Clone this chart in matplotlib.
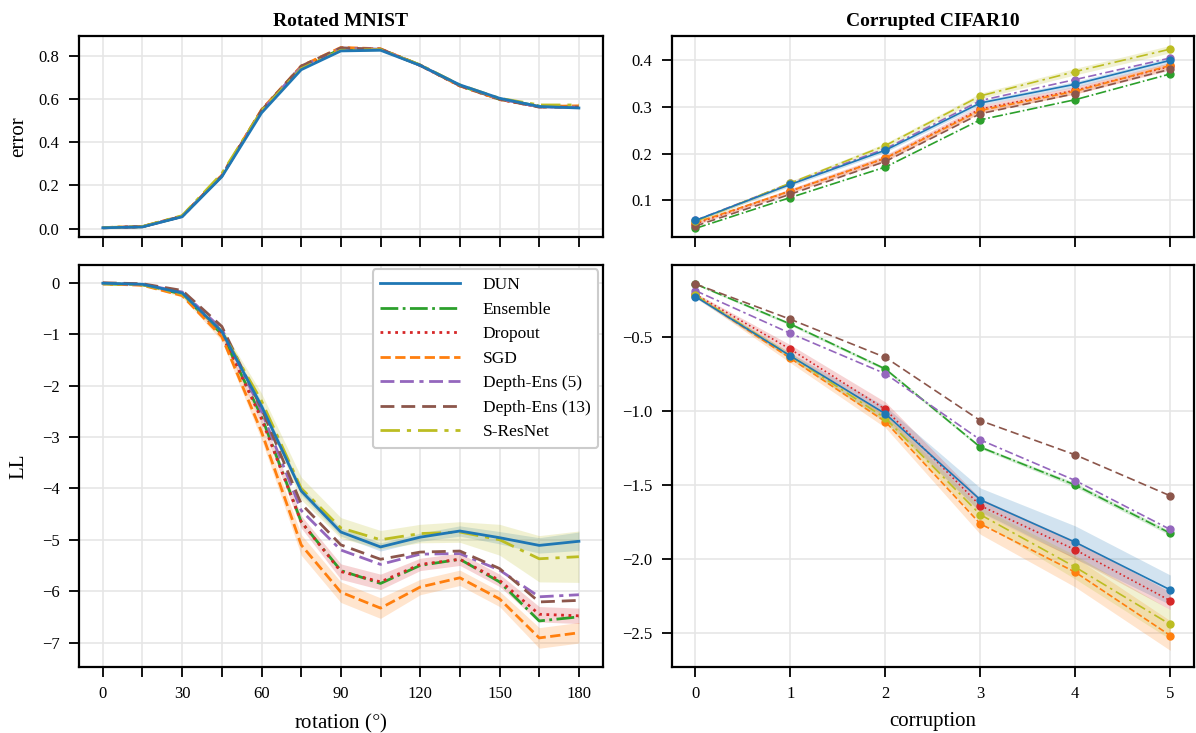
import numpy as np
import matplotlib
matplotlib.use("Agg")
import matplotlib.pyplot as plt

plt.rcParams["font.family"] = ["Liberation Serif", "DejaVu Serif"]
plt.rcParams["mathtext.fontset"] = "stix"

methods = ["DUN", "Ensemble", "Dropout", "SGD", "Depth-Ens (5)", "Depth-Ens (13)", "S-ResNet"]
colors = ["#1f77b4", "#2ca02c", "#d62728", "#ff7f0e", "#9467bd", "#8c564b", "#bcbd22"]
styles = ["-", "-.", ":", "--", (0, (5, 2, 5, 2, 1.5, 2)), (0, (5, 2.5)), (0, (7, 2.5, 1.5, 2.5))]

rotation = [0, 15, 30, 45, 60, 75, 90, 105, 120, 135, 150, 165, 180]
corruption = [0, 1, 2, 3, 4, 5]

# Rotated MNIST error
mnist_err_dun = [0.004, 0.008, 0.055, 0.240, 0.535, 0.735, 0.822, 0.825, 0.755, 0.665, 0.603, 0.565, 0.558]
mnist_err_ens = [0.004, 0.009, 0.057, 0.245, 0.545, 0.745, 0.830, 0.830, 0.757, 0.662, 0.598, 0.567, 0.565]
mnist_err_drop = [0.005, 0.009, 0.058, 0.245, 0.548, 0.750, 0.835, 0.830, 0.755, 0.660, 0.597, 0.563, 0.565]
mnist_err_sgd = [0.005, 0.010, 0.058, 0.247, 0.550, 0.752, 0.838, 0.832, 0.756, 0.660, 0.598, 0.565, 0.568]
mnist_err_de5 = [0.004, 0.009, 0.056, 0.243, 0.545, 0.748, 0.835, 0.830, 0.755, 0.662, 0.600, 0.563, 0.562]
mnist_err_de13 = [0.004, 0.009, 0.057, 0.244, 0.547, 0.752, 0.836, 0.830, 0.755, 0.661, 0.599, 0.562, 0.562]
mnist_err_sres = [0.005, 0.010, 0.060, 0.255, 0.545, 0.740, 0.825, 0.828, 0.757, 0.665, 0.603, 0.572, 0.572]

# Rotated MNIST log likelihood
mnist_ll_dun = [-0.01, -0.03, -0.20, -0.95, -2.40, -4.05, -4.85, -5.14, -4.95, -4.83, -4.96, -5.11, -5.03]
mnist_ll_ens = [-0.02, -0.04, -0.22, -1.00, -2.60, -4.65, -5.60, -5.85, -5.50, -5.38, -5.82, -6.58, -6.50]
mnist_ll_drop = [-0.02, -0.04, -0.22, -1.00, -2.65, -4.65, -5.62, -5.82, -5.48, -5.38, -5.79, -6.45, -6.48]
mnist_ll_sgd = [-0.02, -0.05, -0.25, -1.05, -2.90, -5.10, -6.02, -6.33, -5.92, -5.74, -6.15, -6.91, -6.81]
mnist_ll_de5 = [-0.01, -0.03, -0.18, -0.90, -2.50, -4.43, -5.20, -5.48, -5.28, -5.27, -5.59, -6.11, -6.07]
mnist_ll_de13 = [0.00, -0.02, -0.15, -0.85, -2.45, -4.30, -5.10, -5.38, -5.24, -5.22, -5.56, -6.21, -6.18]
mnist_ll_sres = [-0.02, -0.04, -0.22, -0.95, -2.30, -4.00, -4.77, -5.00, -4.88, -4.85, -5.00, -5.37, -5.33]

mnist_ll_std_dun = [0, 0, 0.02, 0.05, 0.08, 0.08, 0.08, 0.08, 0.08, 0.10, 0.12, 0.15, 0.18]
mnist_ll_std_drop = [0, 0, 0.02, 0.05, 0.10, 0.12, 0.15, 0.15, 0.12, 0.12, 0.12, 0.15, 0.15]
mnist_ll_std_sgd = [0, 0, 0.03, 0.08, 0.15, 0.20, 0.20, 0.20, 0.15, 0.15, 0.15, 0.20, 0.20]
mnist_ll_std_sres = [0, 0, 0.03, 0.08, 0.15, 0.22, 0.20, 0.18, 0.18, 0.20, 0.30, 0.45, 0.50]

# Corrupted CIFAR10 error
cifar_err_dun = [0.057, 0.134, 0.207, 0.308, 0.348, 0.399]
cifar_err_ens = [0.040, 0.106, 0.171, 0.272, 0.315, 0.370]
cifar_err_drop = [0.050, 0.120, 0.190, 0.295, 0.335, 0.386]
cifar_err_sgd = [0.052, 0.120, 0.190, 0.292, 0.333, 0.388]
cifar_err_de5 = [0.057, 0.136, 0.210, 0.313, 0.358, 0.404]
cifar_err_de13 = [0.045, 0.113, 0.183, 0.285, 0.328, 0.380]
cifar_err_sres = [0.055, 0.137, 0.217, 0.323, 0.375, 0.423]

cifar_err_std_dun = [0.003, 0.004, 0.004, 0.005, 0.006, 0.006]
cifar_err_std_drop = [0.003, 0.005, 0.007, 0.008, 0.008, 0.008]
cifar_err_std_sgd = [0.003, 0.004, 0.005, 0.006, 0.006, 0.006]
cifar_err_std_sres = [0.003, 0.004, 0.005, 0.006, 0.007, 0.008]

# Corrupted CIFAR10 log likelihood
cifar_ll_dun = [-0.23, -0.63, -1.02, -1.60, -1.886, -2.207]
cifar_ll_ens = [-0.145, -0.415, -0.718, -1.245, -1.50, -1.825]
cifar_ll_drop = [-0.215, -0.585, -0.99, -1.64, -1.937, -2.28]
cifar_ll_sgd = [-0.224, -0.646, -1.073, -1.762, -2.088, -2.515]
cifar_ll_de5 = [-0.19, -0.478, -0.75, -1.196, -1.47, -1.80]
cifar_ll_de13 = [-0.145, -0.383, -0.64, -1.066, -1.297, -1.573]
cifar_ll_sres = [-0.22, -0.63, -1.05, -1.70, -2.054, -2.44]

cifar_ll_std_dun = [0.01, 0.02, 0.05, 0.08, 0.11, 0.10]
cifar_ll_std_ens = [0.005, 0.01, 0.01, 0.01, 0.015, 0.015]
cifar_ll_std_drop = [0.01, 0.03, 0.05, 0.05, 0.06, 0.06]
cifar_ll_std_sgd = [0.01, 0.03, 0.04, 0.07, 0.10, 0.10]
cifar_ll_std_sres = [0.01, 0.02, 0.03, 0.05, 0.08, 0.10]

mnist_err = [mnist_err_dun, mnist_err_ens, mnist_err_drop, mnist_err_sgd, mnist_err_de5, mnist_err_de13, mnist_err_sres]
mnist_ll = [mnist_ll_dun, mnist_ll_ens, mnist_ll_drop, mnist_ll_sgd, mnist_ll_de5, mnist_ll_de13, mnist_ll_sres]
mnist_ll_std = [mnist_ll_std_dun, None, mnist_ll_std_drop, mnist_ll_std_sgd, None, None, mnist_ll_std_sres]
cifar_err = [cifar_err_dun, cifar_err_ens, cifar_err_drop, cifar_err_sgd, cifar_err_de5, cifar_err_de13, cifar_err_sres]
cifar_err_std = [cifar_err_std_dun, None, cifar_err_std_drop, cifar_err_std_sgd, None, None, cifar_err_std_sres]
cifar_ll = [cifar_ll_dun, cifar_ll_ens, cifar_ll_drop, cifar_ll_sgd, cifar_ll_de5, cifar_ll_de13, cifar_ll_sres]
cifar_ll_std = [cifar_ll_std_dun, cifar_ll_std_ens, cifar_ll_std_drop, cifar_ll_std_sgd, None, None, cifar_ll_std_sres]

fig = plt.figure(figsize=(11.96, 7.33), dpi=100)
W, H = 1196, 733


def rect(x0, y0, x1, y1):
    return [x0 / W, 1 - y1 / H, (x1 - x0) / W, (y1 - y0) / H]


ax_tl = fig.add_axes(rect(79, 36, 602.7, 237.3))
ax_bl = fig.add_axes(rect(79, 265, 602.7, 666.7))
ax_tr = fig.add_axes(rect(671.7, 36, 1194, 237.3))
ax_br = fig.add_axes(rect(671.7, 265, 1194, 666.7))


def draw(ax, x, series, stds, lw, marker=None):
    for i, (name, y) in enumerate(zip(methods, series)):
        z = 10 if i == 0 else 3
        ax.plot(x, y, color=colors[i], linestyle=styles[i], linewidth=lw,
                marker=marker, markersize=5, label=name, zorder=z)
        if stds is not None and stds[i] is not None:
            y = np.array(y)
            s = np.array(stds[i])
            ax.fill_between(x, y - s, y + s, color=colors[i], alpha=0.2,
                            linewidth=0, zorder=2)


draw(ax_tl, rotation, mnist_err, None, 2.0)
draw(ax_bl, rotation, mnist_ll, mnist_ll_std, 2.0)
draw(ax_tr, corruption, cifar_err, cifar_err_std, 1.2, marker="o")
draw(ax_br, corruption, cifar_ll, cifar_ll_std, 1.2, marker="o")

for ax in [ax_tl, ax_bl, ax_tr, ax_br]:
    ax.grid(True, color="#e6e6e6", linewidth=1.2, zorder=0)
    ax.set_axisbelow(True)
    for sp in ax.spines.values():
        sp.set_linewidth(1.6)
        sp.set_color("black")
    ax.tick_params(direction="out", length=7, width=1.3, labelsize=12, pad=7)

for ax in [ax_tl, ax_bl]:
    ax.set_xlim(-9, 189)
    ax.set_xticks(rotation)
ax_tl.set_xticklabels([])
ax_bl.set_xticklabels([str(r) if r % 30 == 0 else "" for r in rotation])
for ax in [ax_tr, ax_br]:
    ax.set_xlim(-0.25, 5.25)
    ax.set_xticks(corruption)
ax_tr.set_xticklabels([])

ax_tl.set_ylim(-0.04, 0.891)
ax_tl.set_yticks([0.0, 0.2, 0.4, 0.6, 0.8])
ax_bl.set_ylim(-7.47, 0.345)
ax_bl.set_yticks([0, -1, -2, -3, -4, -5, -6, -7])
ax_tr.set_ylim(0.021, 0.451)
ax_tr.set_yticks([0.1, 0.2, 0.3, 0.4])
ax_br.set_ylim(-2.725, -0.017)
ax_br.set_yticks([-0.5, -1.0, -1.5, -2.0, -2.5])

ax_tl.set_title("Rotated MNIST", fontsize=14, fontweight="bold", pad=7)
ax_tr.set_title("Corrupted CIFAR10", fontsize=14, fontweight="bold", pad=7)
ax_tl.set_ylabel("error", fontsize=15)
ax_bl.set_ylabel("LL", fontsize=15)
ax_tl.yaxis.set_label_coords(-0.097, 0.5)
ax_bl.yaxis.set_label_coords(-0.097, 0.5)
ax_bl.set_xlabel("rotation ($\\degree$)", fontsize=15, labelpad=7)
ax_br.set_xlabel("corruption", fontsize=15, labelpad=7)

leg = ax_bl.legend(loc="upper right", fontsize=12.5, handlelength=4.6,
                   frameon=True, fancybox=True, borderpad=0.45,
                   labelspacing=0.48, handletextpad=1.3, borderaxespad=0.25)
leg.get_frame().set_edgecolor("#cccccc")
leg.get_frame().set_linewidth(1.5)
leg.get_frame().set_alpha(1.0)

fig.savefig("out.png", dpi=100)
